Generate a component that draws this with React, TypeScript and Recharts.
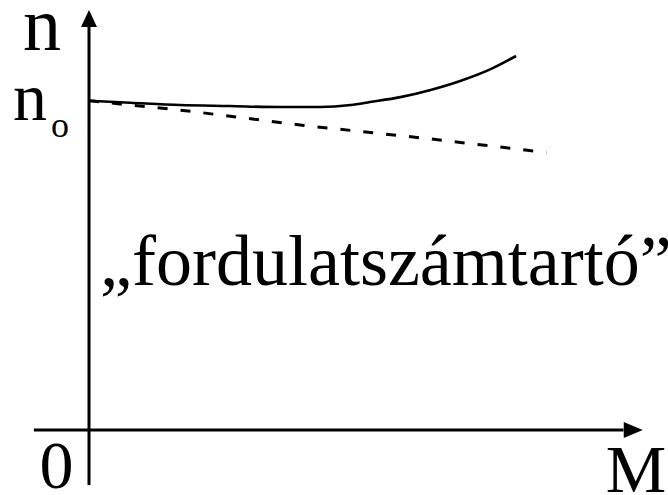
import React from "react";
import { LineChart, Line, XAxis, YAxis, ReferenceLine, ReferenceDot } from "recharts";

// Torque M (relative units) and speed n (n₀ = 1)
const speedHoldM = [0, 7.5, 16.5, 25.5, 34.5, 42, 47.5, 51, 56.5, 62, 67.5, 73, 77.5];
const speedHoldN = [1.0, 0.994, 0.987, 0.984, 0.981, 0.981, 0.987, 0.996, 1.011, 1.033, 1.061, 1.097, 1.136];

const droopM = [0, 18, 39, 61, 83];
const droopN = [1.0, 0.969, 0.925, 0.886, 0.843];

const axisLabelN = "n";
const axisLabelN0 = "n";
const axisLabelN0Sub = "o";
const axisLabelZero = "0";
const axisLabelM = "M";
const caption = "\u201Efordulatszámtartó\u201D";

const solidData = speedHoldM.map((m, i) => ({ M: m, n: speedHoldN[i] }));
const dashedData = droopM.map((m, i) => ({ M: m, n: droopN[i] }));

const FONT = "'Liberation Serif', 'Times New Roman', serif";

const TextShape = (text: string, size: number, anchor: "start" | "middle" | "end", sub?: string) =>
  (props: any) => (
    <text
      x={props.cx}
      y={props.cy}
      fontFamily={FONT}
      fontSize={size}
      fill="#000"
      textAnchor={anchor}
    >
      {text}
      {sub ? (
        <tspan fontSize={36} dx={4} dy={17}>
          {sub}
        </tspan>
      ) : null}
    </text>
  );

const ArrowUp = (props: any) => (
  <path
    d={`M ${props.cx} ${props.cy} L ${props.cx - 8} ${props.cy + 17} L ${props.cx + 8} ${props.cy + 17} Z`}
    fill="#000"
  />
);

const ArrowRight = (props: any) => (
  <path
    d={`M ${props.cx} ${props.cy} L ${props.cx - 19} ${props.cy - 8} L ${props.cx - 19} ${props.cy + 8} Z`}
    fill="#000"
  />
);

export default function App() {
  return (
    <div style={{ position: "absolute", left: 0, top: 0, background: "#fff" }}>
      <LineChart
        width={668}
        height={495}
        margin={{ top: 2, right: 28, bottom: 65, left: 89 }}
      >
        <XAxis type="number" dataKey="M" domain={[0, 100]} hide allowDataOverflow />
        <YAxis type="number" dataKey="n" domain={[0, 1.3]} hide allowDataOverflow />

        {/* axes */}
        <ReferenceLine
          segment={[{ x: -10, y: 0 }, { x: 97, y: 0 }]}
          stroke="#000"
          strokeWidth={3}
          ifOverflow="visible"
        />
        <ReferenceLine
          segment={[{ x: 0, y: -0.167 }, { x: 0, y: 1.23 }]}
          stroke="#000"
          strokeWidth={3}
          ifOverflow="visible"
        />
        <ReferenceDot x={0} y={1.276} r={0} ifOverflow="visible" shape={ArrowUp} />
        <ReferenceDot x={100.5} y={0} r={0} ifOverflow="visible" shape={ArrowRight} />

        <Line
          data={solidData}
          dataKey="n"
          type="monotone"
          stroke="#000"
          strokeWidth={2.6}
          dot={false}
          isAnimationActive={false}
        />
        <Line
          data={dashedData}
          dataKey="n"
          type="linear"
          stroke="#000"
          strokeWidth={3}
          strokeDasharray="10 13"
          dot={false}
          isAnimationActive={false}
        />

        {/* labels */}
        <ReferenceDot x={-12.0} y={1.154} r={0} ifOverflow="visible" shape={TextShape(axisLabelN, 76, "start")} />
        <ReferenceDot
          x={-13.8}
          y={0.942}
          r={0}
          ifOverflow="visible"
          shape={TextShape(axisLabelN0, 68, "start", axisLabelN0Sub)}
        />
        <ReferenceDot x={-5.9} y={-0.176} r={0} ifOverflow="visible" shape={TextShape(axisLabelZero, 68, "middle")} />
        <ReferenceDot x={93.8} y={-0.188} r={0} ifOverflow="visible" shape={TextShape(axisLabelM, 68, "start")} />
        <ReferenceDot x={2.0} y={0.44} r={0} ifOverflow="visible" shape={TextShape(caption, 72, "start")} />
      </LineChart>
    </div>
  );
}
